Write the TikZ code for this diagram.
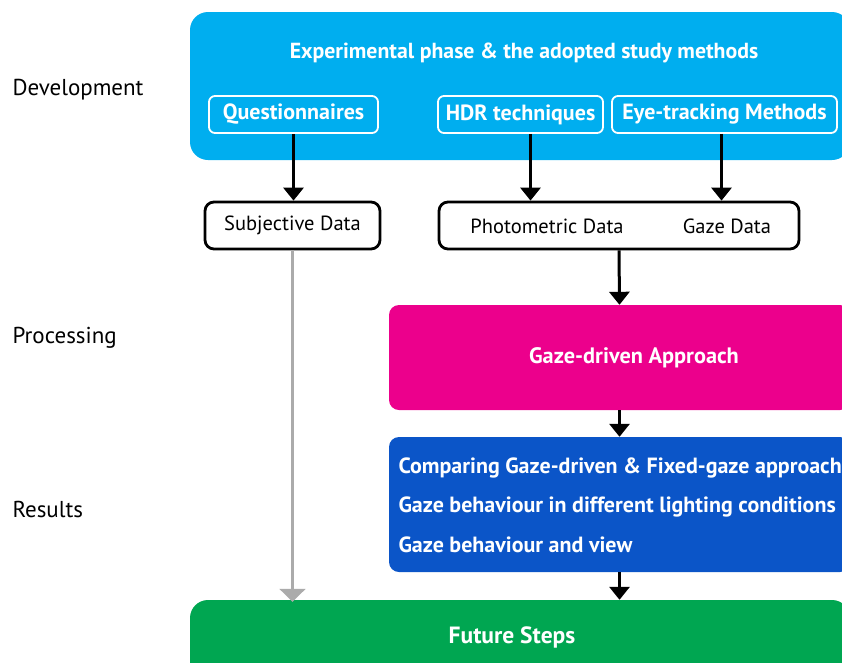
\documentclass[tikz,border=0pt]{standalone}
\usepackage{fontspec}
\setmainfont{PT Sans}
\usetikzlibrary{arrows.meta,positioning}
\definecolor{devblue}{HTML}{00AEEF}
\definecolor{procpink}{HTML}{EC008C}
\definecolor{resblue}{HTML}{0B55C8}
\definecolor{futgreen}{HTML}{00A651}
\definecolor{sidegray}{HTML}{ABABAB}

\begin{document}
\begin{tikzpicture}[x=1pt,y=-1pt,
    phase/.style={rounded corners=18pt, inner sep=0pt},
    method/.style={draw=white, line width=1.8pt, rounded corners=6pt, text=white,
        font=\bfseries\fontsize{22}{24}\selectfont, minimum height=37pt, inner sep=0pt},
    datum/.style={draw=black, line width=2.8pt, rounded corners=9pt, minimum height=47pt},
    label/.style={font=\fontsize{23}{24}\selectfont, anchor=west},
    link/.style={line width=3pt, -{Triangle[width=20pt,length=13pt]}},
    graylink/.style={draw=sidegray, line width=2.2pt, -{Triangle[width=26pt,length=13pt]}}]
\useasboundingbox (0,0) rectangle (842,662);
\clip (0,0) rectangle (842,662);

% phases
\node[phase, fill=devblue, minimum width=660pt, minimum height=148pt] (dev) at (520,86) {};
\node[phase, fill=procpink, rounded corners=10pt, minimum width=461pt, minimum height=105pt] (proc) at (619.5,357.5) {};
\node[phase, fill=resblue, rounded corners=10pt, minimum width=461pt, minimum height=135pt] (res) at (619.5,504.5) {};
\node[phase, fill=futgreen, minimum width=660pt, minimum height=80pt] (fut) at (520,640) {};

% side labels
\node[label] (devlabel) at (9,90) {Development};
\node[label] (proclabel) at (9,338) {Processing};
\node[label] (reslabel) at (9,509) {Results};

% development
\node[text=white, font=\bfseries\fontsize{21.8}{24}\selectfont] (title) at (524,53) {Experimental phase \& the adopted study methods};
\node[method, minimum width=169pt] (quest) at (293.5,114.5) {\raisebox{-2pt}{Questionnaires}};
\node[method, minimum width=165pt] (hdr) at (520.5,114.5) {\raisebox{-2pt}{HDR techniques}};
\node[method, minimum width=225pt] (eye) at (724.5,114.5) {\raisebox{-2pt}{Eye-tracking Methods}};

% data
\node[datum, minimum width=175pt, font=\fontsize{20.5}{24}\selectfont] (subj) at (292.5,225.5) {Subjective Data};
\node[datum, minimum width=360pt] (data) at (619,225.5) {};
\node[font=\fontsize{20.5}{24}\selectfont] (photo) at (547,226) {Photometric Data};
\node[font=\fontsize{20.5}{24}\selectfont] (gaze) at (727,226) {Gaze Data};

% processing and results
\node[text=white, font=\bfseries\fontsize{22.3}{24}\selectfont] (approach) at (634,358) {Gaze-driven Approach};
\node[text=white, font=\bfseries\fontsize{22}{39.5}\selectfont, anchor=west, align=left] (findings) at (395,505)
    {Comparing Gaze-driven \& Fixed-gaze approach\\Gaze behaviour in different lighting conditions\\Gaze behaviour and view};
\node[text=white, font=\bfseries\fontsize{23.5}{24}\selectfont] (steps) at (512,637) {Future Steps};

% connectors
\draw[link] (quest.south) -- (quest.south |- subj.north);
\draw[link] ([xshift=10pt]hdr.south) -- ([xshift=10pt]hdr.south |- data.north);
\draw[link] ([xshift=-3pt]eye.south) -- ([xshift=-3pt]eye.south |- data.north);
\draw[link] (data.south) -- (proc.north);
\draw[link] (proc.south) -- (res.north);
\draw[link] (res.south) -- (res.south |- fut.north);
\draw[graylink] (subj.south) -- ([yshift=-2pt]subj.south |- fut.north);
\end{tikzpicture}
\end{document}
